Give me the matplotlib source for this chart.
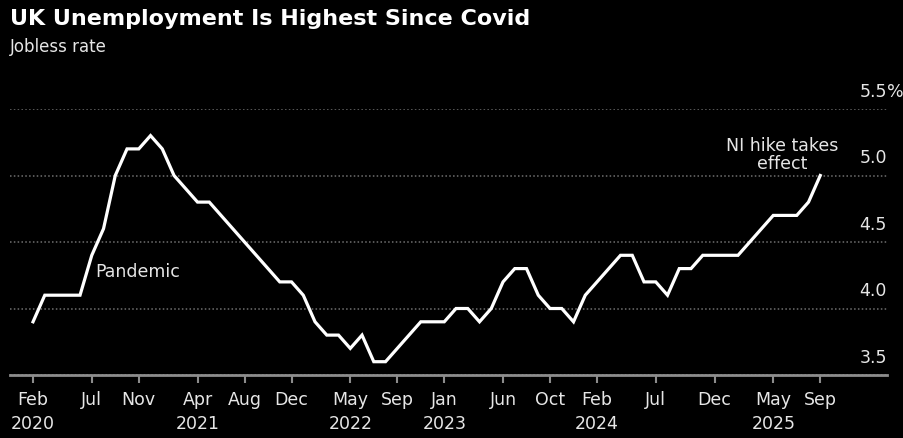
import matplotlib
matplotlib.use('Agg')
import matplotlib.pyplot as plt
import matplotlib.transforms as mtransforms
import numpy as np
import pandas as pd

# UK jobless rate, monthly (rolling 3m), Feb 2020 - Sep 2025
months = pd.period_range('2020-02', '2025-09', freq='M')
rate = [3.9, 4.1, 4.1, 4.1, 4.1, 4.4, 4.6, 5.0, 5.2, 5.2, 5.3, 5.2,
        5.0, 4.9, 4.8, 4.8, 4.7, 4.6, 4.5, 4.4, 4.3, 4.2, 4.2, 4.1,
        3.9, 3.8, 3.8, 3.7, 3.8, 3.6, 3.6, 3.7, 3.8, 3.9, 3.9, 3.9,
        4.0, 4.0, 3.9, 4.0, 4.2, 4.3, 4.3, 4.1, 4.0, 4.0, 3.9, 4.1,
        4.2, 4.3, 4.4, 4.4, 4.2, 4.2, 4.1, 4.3, 4.3, 4.4, 4.4, 4.4,
        4.4, 4.5, 4.6, 4.7, 4.7, 4.7, 4.8, 5.0]

tick_months = ['2020-02', '2020-07', '2020-11', '2021-04', '2021-08', '2021-12',
               '2022-05', '2022-09', '2023-01', '2023-06', '2023-10', '2024-02',
               '2024-07', '2024-12', '2025-05', '2025-09']
tick_labels = ['Feb\n2020', 'Jul', 'Nov', 'Apr\n2021', 'Aug', 'Dec',
               'May\n2022', 'Sep', 'Jan\n2023', 'Jun', 'Oct', 'Feb\n2024',
               'Jul', 'Dec', 'May\n2025', 'Sep']
y_values = [3.5, 4.0, 4.5, 5.0, 5.5]
y_labels = ['3.5', '4.0', '4.5', '5.0', '5.5']

text_col = '#e6e6e6'
axis_col = '#8c8c8c'
grid_col = '#707070'
plt.rcParams['font.family'] = ['DejaVu Sans']

fig = plt.figure(figsize=(9.04, 4.39), dpi=100, facecolor='black')
ax = fig.add_axes([10 / 904, 1 - 376 / 439, 877 / 904, 266 / 439])
ax.set_facecolor('black')

x = np.arange(len(months))
ax.plot(x, rate, color='white', lw=2.3, solid_joinstyle='miter', zorder=3)

ax.set_xlim(-1.96, 72.68)
ax.set_ylim(3.5, 5.5)

# x axis
tick_pos = [months.get_loc(pd.Period(m, 'M')) for m in tick_months]
ax.set_xticks(tick_pos)
ax.set_xticklabels(tick_labels, color=text_col, fontsize=12.5,
                   linespacing=1.4, va='top')
ax.tick_params(axis='x', direction='out', length=6, width=1.5,
               color=axis_col, pad=5)

# y grid + labels drawn above the lines
ax.set_yticks(y_values)
ax.tick_params(axis='y', length=0, labelleft=False, labelright=False)
ax.yaxis.grid(True, color=grid_col, linestyle=(0, (1, 1.5)), lw=1.1)
ax.set_axisbelow(True)

lab_tr = mtransforms.offset_copy(ax.get_yaxis_transform(), fig=fig,
                                 x=0, y=18, units='dots')
for v, lab in zip(y_values, y_labels):
    ax.text(1.0, v, lab, transform=lab_tr, ha='right', va='center',
            color=text_col, fontsize=12.5, clip_on=False)
ax.text(1.0, y_values[-1], '%', transform=lab_tr, ha='left', va='center',
        color=text_col, fontsize=12.5, clip_on=False)

for side in ['top', 'left', 'right']:
    ax.spines[side].set_visible(False)
ax.spines['bottom'].set_color(axis_col)
ax.spines['bottom'].set_linewidth(2)

# annotations
ax.text(5.28, 4.28, 'Pandemic', color=text_col, fontsize=12.5,
        ha='left', va='center')
ax.text(63.8, 5.16, 'NI hike takes\neffect', color=text_col, fontsize=12.5,
        ha='center', va='center', linespacing=1.0)

# title block
fig.text(10 / 904, 1 - 25 / 439, 'UK Unemployment Is Highest Since Covid',
         color='white', fontsize=16, fontweight='bold', va='baseline')
fig.text(10 / 904, 1 - 52 / 439, 'Jobless rate', color=text_col,
         fontsize=12, va='baseline')

fig.savefig('out.png', dpi=100, facecolor='black')
